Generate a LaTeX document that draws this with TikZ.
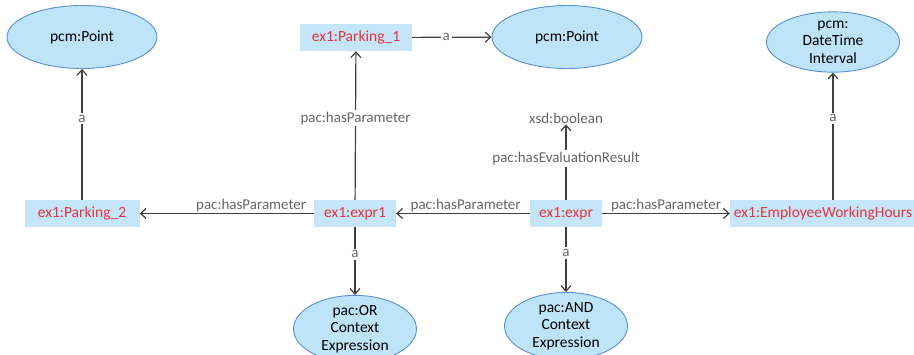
\documentclass[tikz,border=0pt]{standalone}
\usepackage{fontspec}
\setmainfont{Carlito}
\usetikzlibrary{shapes.geometric,arrows.meta}
\definecolor{classfill}{HTML}{BDE4F8}
\definecolor{classline}{HTML}{5B8FD0}
\definecolor{instfill}{HTML}{C4E6F8}
\definecolor{insttext}{HTML}{E8323C}
\definecolor{edgeline}{HTML}{404040}
\definecolor{edgetext}{HTML}{666666}
\tikzset{
  classnode/.style={ellipse, draw=classline, fill=classfill, line width=0.9pt,
    inner sep=0pt, align=center, font=\fontsize{15.5}{17.5}\selectfont, text=black},
  instnode/.style={rectangle, fill=instfill, inner sep=0pt, minimum height=27pt,
    font=\fontsize{15.5}{17}\selectfont, text=insttext},
  litnode/.style={inner sep=1pt, font=\fontsize{15}{17}\selectfont, text=edgetext},
  rel/.style={draw=edgeline, line width=1.2pt, -{Straight Barb[length=5.5pt,width=10pt]}},
  rellabel/.style={fill=white, inner sep=2pt, font=\fontsize{15}{17}\selectfont, text=edgetext},
}
\begin{document}
\begin{tikzpicture}[x=1pt,y=-1pt]
\useasboundingbox (0,0) rectangle (914,354);
% class nodes
\node[classnode, minimum width=150pt, minimum height=63pt] (pointL) at (82,37) {pcm:Point};
\node[classnode, minimum width=150pt, minimum height=63pt] (pointM) at (567,37) {pcm:Point};
\node[classnode, minimum width=133pt, minimum height=60pt] (interval) at (833,42) {pcm:\\DateTime\\Interval};
\node[classnode, minimum width=123pt, minimum height=58pt] (orexpr) at (355,329) {pac:OR\\Context\\Expression};
\node[classnode, minimum width=123pt, minimum height=58pt] (andexpr) at (566,326) {pac:AND\\Context\\Expression};
% instance nodes
\node[instnode, minimum width=112pt] (park1) at (356,37.5) {ex1:Parking\_1};
\node[instnode, minimum width=115pt] (park2) at (82,213.5) {ex1:Parking\_2};
\node[instnode, minimum width=82pt] (expr1) at (355,213.5) {ex1:expr1};
\node[instnode, minimum width=72pt] (expr) at (566,213.5) {ex1:expr};
\node[instnode, minimum width=186pt] (ewh) at (823,213.5) {ex1:EmployeeWorkingHours};
% literal
\node[litnode] (bool) at (566,118) {xsd:boolean};
% relations
\draw[rel] (park2) -- node[rellabel, pos=0.62] {a} (pointL);
\draw[rel] (park1) -- node[rellabel, pos=0.43] {a} (pointM);
\draw[rel] (expr1) -- node[rellabel, pos=0.55] {pac:hasParameter} (park1);
\draw[rel] (expr1) -- node[rellabel, pos=0.36, above, fill=none, inner sep=1pt] {pac:hasParameter} (park2);
\draw[rel] (expr) -- node[rellabel, pos=0.48, above, fill=none, inner sep=1pt] {pac:hasParameter} (expr1);
\draw[rel] (expr) -- node[rellabel, pos=0.5, above, fill=none, inner sep=1pt] {pac:hasParameter} (ewh);
\draw[rel] (expr) -- node[rellabel, pos=0.55] {pac:hasEvaluationResult} (bool);
\draw[rel] (ewh.north -| interval.south) -- node[rellabel, pos=0.64] {a} (interval);
\draw[rel] (expr1) -- node[rellabel, pos=0.4] {a} (orexpr);
\draw[rel] (expr) -- node[rellabel, pos=0.4] {a} (andexpr);
\end{tikzpicture}
\end{document}
